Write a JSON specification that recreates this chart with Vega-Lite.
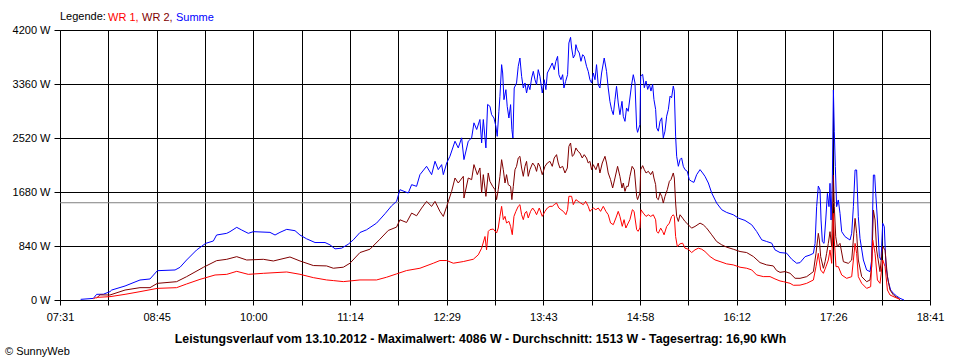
{
"$schema":"https://vega.github.io/schema/vega-lite/v6.json",
"width":870,"height":270,
"autosize":{"type":"none"},
"padding":{"left":60,"top":30,"right":30,"bottom":60},
"background":"white",
"config":{"view":{"stroke":null},"font":"Liberation Sans"},
"title":{"text":"© SunnyWeb","orient":"bottom","anchor":"start","frame":"group","dx":-55,"offset":2,"fontSize":11,"fontWeight":"normal","color":"black"},
"data":{"values":[
{"zeit":466.9,"serie":"Summe","watt":10},{"zeit":476.7,"serie":"Summe","watt":25},{"zeit":479.2,"serie":"Summe","watt":88},{"zeit":484.4,"serie":"Summe","watt":90},{"zeit":489.5,"serie":"Summe","watt":130},{"zeit":490.8,"serie":"Summe","watt":155},{"zeit":501.1,"serie":"Summe","watt":218},{"zeit":512.6,"serie":"Summe","watt":311},{"zeit":520.3,"serie":"Summe","watt":327},{"zeit":526.0,"serie":"Summe","watt":456},{"zeit":539.6,"serie":"Summe","watt":467},{"zeit":543.4,"serie":"Summe","watt":508},{"zeit":548.5,"serie":"Summe","watt":622},{"zeit":556.2,"serie":"Summe","watt":778},{"zeit":563.2,"serie":"Summe","watt":881},{"zeit":569.1,"serie":"Summe","watt":918},{"zeit":571.6,"serie":"Summe","watt":1011},{"zeit":579.4,"serie":"Summe","watt":1037},{"zeit":581.9,"serie":"Summe","watt":1063},{"zeit":587.1,"serie":"Summe","watt":1130},{"zeit":590.9,"serie":"Summe","watt":1089},{"zeit":596.0,"serie":"Summe","watt":1037},{"zeit":599.9,"serie":"Summe","watt":1063},{"zeit":612.7,"serie":"Summe","watt":1052},{"zeit":616.6,"serie":"Summe","watt":1011},{"zeit":620.4,"serie":"Summe","watt":1052},{"zeit":625.6,"serie":"Summe","watt":1099},{"zeit":632.0,"serie":"Summe","watt":1078},{"zeit":635.8,"serie":"Summe","watt":1011},{"zeit":640.9,"serie":"Summe","watt":952},{"zeit":647.4,"serie":"Summe","watt":894},{"zeit":655.1,"serie":"Summe","watt":894},{"zeit":658.9,"serie":"Summe","watt":858},{"zeit":662.8,"serie":"Summe","watt":796},{"zeit":667.9,"serie":"Summe","watt":806},{"zeit":673.0,"serie":"Summe","watt":868},{"zeit":676.9,"serie":"Summe","watt":936},{"zeit":682.0,"serie":"Summe","watt":1050},{"zeit":687.1,"serie":"Summe","watt":1092},{"zeit":694.8,"serie":"Summe","watt":1196},{"zeit":701.3,"serie":"Summe","watt":1342},{"zeit":706.4,"serie":"Summe","watt":1466},{"zeit":710.2,"serie":"Summe","watt":1534},{"zeit":712.8,"serie":"Summe","watt":1716},{"zeit":719.2,"serie":"Summe","watt":1664},{"zeit":721.8,"serie":"Summe","watt":1794},{"zeit":725.6,"serie":"Summe","watt":1768},{"zeit":728.2,"serie":"Summe","watt":1950},{"zeit":733.3,"serie":"Summe","watt":2080},{"zeit":737.2,"serie":"Summe","watt":1950},{"zeit":739.8,"serie":"Summe","watt":2158},{"zeit":742.3,"serie":"Summe","watt":2028},{"zeit":744.9,"serie":"Summe","watt":2106},{"zeit":746.2,"serie":"Summe","watt":1950},{"zeit":748.8,"serie":"Summe","watt":2132},{"zeit":751.3,"serie":"Summe","watt":2236},{"zeit":755.2,"serie":"Summe","watt":2470},{"zeit":757.7,"serie":"Summe","watt":2366},{"zeit":760.3,"serie":"Summe","watt":2522},{"zeit":762.1,"serie":"Summe","watt":2184},{"zeit":765.4,"serie":"Summe","watt":2470},{"zeit":768.0,"serie":"Summe","watt":2522},{"zeit":769.8,"serie":"Summe","watt":2756},{"zeit":771.9,"serie":"Summe","watt":2652},{"zeit":774.4,"serie":"Summe","watt":2808},{"zeit":775.7,"serie":"Summe","watt":2444},{"zeit":777.0,"serie":"Summe","watt":2808},{"zeit":779.0,"serie":"Summe","watt":2366},{"zeit":780.3,"serie":"Summe","watt":3042},{"zeit":782.1,"serie":"Summe","watt":3013},{"zeit":783.4,"serie":"Summe","watt":2883},{"zeit":785.2,"serie":"Summe","watt":2831},{"zeit":786.7,"serie":"Summe","watt":2701},{"zeit":787.7,"serie":"Summe","watt":2546},{"zeit":789.0,"serie":"Summe","watt":2935},{"zeit":789.8,"serie":"Summe","watt":3168},{"zeit":791.1,"serie":"Summe","watt":3661},{"zeit":791.9,"serie":"Summe","watt":3531},{"zeit":792.9,"serie":"Summe","watt":3116},{"zeit":794.4,"serie":"Summe","watt":3272},{"zeit":795.4,"serie":"Summe","watt":3013},{"zeit":796.7,"serie":"Summe","watt":2831},{"zeit":798.0,"serie":"Summe","watt":3039},{"zeit":799.0,"serie":"Summe","watt":2650},{"zeit":799.8,"serie":"Summe","watt":2520},{"zeit":800.8,"serie":"Summe","watt":3298},{"zeit":802.6,"serie":"Summe","watt":3376},{"zeit":803.9,"serie":"Summe","watt":3635},{"zeit":805.2,"serie":"Summe","watt":3764},{"zeit":806.5,"serie":"Summe","watt":3479},{"zeit":807.8,"serie":"Summe","watt":3298},{"zeit":809.1,"serie":"Summe","watt":3376},{"zeit":810.3,"serie":"Summe","watt":3220},{"zeit":811.6,"serie":"Summe","watt":3350},{"zeit":812.9,"serie":"Summe","watt":3272},{"zeit":814.2,"serie":"Summe","watt":3453},{"zeit":815.5,"serie":"Summe","watt":3557},{"zeit":816.8,"serie":"Summe","watt":3427},{"zeit":818.0,"serie":"Summe","watt":3350},{"zeit":819.3,"serie":"Summe","watt":3583},{"zeit":820.6,"serie":"Summe","watt":3479},{"zeit":822.4,"serie":"Summe","watt":3220},{"zeit":823.9,"serie":"Summe","watt":3427},{"zeit":825.2,"serie":"Summe","watt":3272},{"zeit":826.3,"serie":"Summe","watt":3531},{"zeit":828.3,"serie":"Summe","watt":3609},{"zeit":830.1,"serie":"Summe","watt":3687},{"zeit":831.6,"serie":"Summe","watt":3583},{"zeit":832.9,"serie":"Summe","watt":3713},{"zeit":834.2,"serie":"Summe","watt":3790},{"zeit":835.2,"serie":"Summe","watt":3505},{"zeit":836.8,"serie":"Summe","watt":3427},{"zeit":838.1,"serie":"Summe","watt":3505},{"zeit":839.1,"serie":"Summe","watt":3298},{"zeit":840.4,"serie":"Summe","watt":3401},{"zeit":841.9,"serie":"Summe","watt":3505},{"zeit":842.9,"serie":"Summe","watt":3998},{"zeit":844.2,"serie":"Summe","watt":4086},{"zeit":845.0,"serie":"Summe","watt":3920},{"zeit":846.3,"serie":"Summe","watt":3764},{"zeit":847.6,"serie":"Summe","watt":3816},{"zeit":848.3,"serie":"Summe","watt":3972},{"zeit":849.4,"serie":"Summe","watt":3894},{"zeit":850.9,"serie":"Summe","watt":3842},{"zeit":852.2,"serie":"Summe","watt":3713},{"zeit":853.5,"serie":"Summe","watt":3816},{"zeit":854.7,"serie":"Summe","watt":3790},{"zeit":856.5,"serie":"Summe","watt":3635},{"zeit":857.8,"serie":"Summe","watt":3557},{"zeit":859.1,"serie":"Summe","watt":3427},{"zeit":860.4,"serie":"Summe","watt":3376},{"zeit":861.7,"serie":"Summe","watt":3531},{"zeit":863.0,"serie":"Summe","watt":3427},{"zeit":864.2,"serie":"Summe","watt":3661},{"zeit":865.5,"serie":"Summe","watt":3350},{"zeit":866.8,"serie":"Summe","watt":3298},{"zeit":868.1,"serie":"Summe","watt":3531},{"zeit":870.1,"serie":"Summe","watt":3764},{"zeit":871.9,"serie":"Summe","watt":3557},{"zeit":873.2,"serie":"Summe","watt":3298},{"zeit":874.5,"serie":"Summe","watt":3090},{"zeit":875.8,"serie":"Summe","watt":2960},{"zeit":877.1,"serie":"Summe","watt":2883},{"zeit":878.4,"serie":"Summe","watt":3116},{"zeit":879.6,"serie":"Summe","watt":3324},{"zeit":880.9,"serie":"Summe","watt":3065},{"zeit":882.2,"serie":"Summe","watt":2883},{"zeit":883.8,"serie":"Summe","watt":3090},{"zeit":884.8,"serie":"Summe","watt":2857},{"zeit":886.1,"serie":"Summe","watt":2779},{"zeit":887.3,"serie":"Summe","watt":2987},{"zeit":888.6,"serie":"Summe","watt":2935},{"zeit":889.9,"serie":"Summe","watt":3142},{"zeit":891.2,"serie":"Summe","watt":3350},{"zeit":892.5,"serie":"Summe","watt":3505},{"zeit":893.8,"serie":"Summe","watt":3376},{"zeit":895.1,"serie":"Summe","watt":2676},{"zeit":895.8,"serie":"Summe","watt":2608},{"zeit":897.6,"serie":"Summe","watt":2727},{"zeit":898.2,"serie":"Summe","watt":3484},{"zeit":899.7,"serie":"Summe","watt":3510},{"zeit":901.0,"serie":"Summe","watt":3302},{"zeit":902.3,"serie":"Summe","watt":3406},{"zeit":903.6,"serie":"Summe","watt":3276},{"zeit":904.9,"serie":"Summe","watt":3354},{"zeit":906.1,"serie":"Summe","watt":3250},{"zeit":907.4,"serie":"Summe","watt":3354},{"zeit":908.4,"serie":"Summe","watt":3120},{"zeit":909.7,"serie":"Summe","watt":2964},{"zeit":910.5,"serie":"Summe","watt":2678},{"zeit":911.8,"serie":"Summe","watt":2626},{"zeit":913.1,"serie":"Summe","watt":2782},{"zeit":914.4,"serie":"Summe","watt":2834},{"zeit":915.6,"serie":"Summe","watt":2522},{"zeit":916.9,"serie":"Summe","watt":2626},{"zeit":918.2,"serie":"Summe","watt":2860},{"zeit":919.5,"serie":"Summe","watt":2964},{"zeit":920.8,"serie":"Summe","watt":3172},{"zeit":922.0,"serie":"Summe","watt":3146},{"zeit":923.3,"serie":"Summe","watt":3328},{"zeit":924.1,"serie":"Summe","watt":3250},{"zeit":925.1,"serie":"Summe","watt":2548},{"zeit":925.9,"serie":"Summe","watt":2236},{"zeit":927.2,"serie":"Summe","watt":2080},{"zeit":928.5,"serie":"Summe","watt":2184},{"zeit":929.7,"serie":"Summe","watt":2210},{"zeit":931.0,"serie":"Summe","watt":2080},{"zeit":932.3,"serie":"Summe","watt":2028},{"zeit":934.1,"serie":"Summe","watt":2002},{"zeit":935.6,"serie":"Summe","watt":1872},{"zeit":937.4,"serie":"Summe","watt":1846},{"zeit":939.2,"serie":"Summe","watt":1830},{"zeit":941.3,"serie":"Summe","watt":1950},{"zeit":943.9,"serie":"Summe","watt":2028},{"zeit":945.9,"serie":"Summe","watt":1976},{"zeit":947.7,"serie":"Summe","watt":1924},{"zeit":950.3,"serie":"Summe","watt":1820},{"zeit":952.9,"serie":"Summe","watt":1664},{"zeit":956.7,"serie":"Summe","watt":1508},{"zeit":960.6,"serie":"Summe","watt":1404},{"zeit":964.4,"serie":"Summe","watt":1362},{"zeit":969.5,"serie":"Summe","watt":1326},{"zeit":973.4,"serie":"Summe","watt":1274},{"zeit":978.5,"serie":"Summe","watt":1238},{"zeit":983.7,"serie":"Summe","watt":1170},{"zeit":987.5,"serie":"Summe","watt":1066},{"zeit":991.4,"serie":"Summe","watt":936},{"zeit":995.2,"serie":"Summe","watt":910},{"zeit":999.1,"serie":"Summe","watt":884},{"zeit":1001.6,"serie":"Summe","watt":780},{"zeit":1005.5,"serie":"Summe","watt":738},{"zeit":1010.6,"serie":"Summe","watt":728},{"zeit":1014.5,"serie":"Summe","watt":634},{"zeit":1018.3,"serie":"Summe","watt":572},{"zeit":1020.9,"serie":"Summe","watt":581},{"zeit":1024.8,"serie":"Summe","watt":674},{"zeit":1028.6,"serie":"Summe","watt":700},{"zeit":1031.2,"serie":"Summe","watt":726},{"zeit":1032.5,"serie":"Summe","watt":881},{"zeit":1033.7,"serie":"Summe","watt":1452},{"zeit":1035.0,"serie":"Summe","watt":1773},{"zeit":1036.3,"serie":"Summe","watt":1711},{"zeit":1037.1,"serie":"Summe","watt":1244},{"zeit":1038.1,"serie":"Summe","watt":907},{"zeit":1039.4,"serie":"Summe","watt":881},{"zeit":1040.7,"serie":"Summe","watt":1244},{"zeit":1042.0,"serie":"Summe","watt":1659},{"zeit":1043.2,"serie":"Summe","watt":1452},{"zeit":1044.0,"serie":"Summe","watt":1815},{"zeit":1044.8,"serie":"Summe","watt":1244},{"zeit":1045.8,"serie":"Summe","watt":1867},{"zeit":1046.6,"serie":"Summe","watt":3267},{"zeit":1047.3,"serie":"Summe","watt":2618},{"zeit":1048.1,"serie":"Summe","watt":2074},{"zeit":1049.1,"serie":"Summe","watt":1452},{"zeit":1050.4,"serie":"Summe","watt":1556},{"zeit":1051.7,"serie":"Summe","watt":1348},{"zeit":1053.0,"serie":"Summe","watt":1063},{"zeit":1055.6,"serie":"Summe","watt":985},{"zeit":1059.4,"serie":"Summe","watt":933},{"zeit":1060.7,"serie":"Summe","watt":1037},{"zeit":1062.0,"serie":"Summe","watt":1452},{"zeit":1063.3,"serie":"Summe","watt":2022},{"zeit":1064.5,"serie":"Summe","watt":2022},{"zeit":1065.8,"serie":"Summe","watt":1296},{"zeit":1067.1,"serie":"Summe","watt":959},{"zeit":1069.7,"serie":"Summe","watt":622},{"zeit":1072.2,"serie":"Summe","watt":467},{"zeit":1074.8,"serie":"Summe","watt":441},{"zeit":1076.1,"serie":"Summe","watt":622},{"zeit":1077.4,"serie":"Summe","watt":1944},{"zeit":1078.4,"serie":"Summe","watt":1944},{"zeit":1079.2,"serie":"Summe","watt":1659},{"zeit":1080.5,"serie":"Summe","watt":1244},{"zeit":1082.0,"serie":"Summe","watt":674},{"zeit":1083.3,"serie":"Summe","watt":622},{"zeit":1084.6,"serie":"Summe","watt":1193},{"zeit":1085.8,"serie":"Summe","watt":1141},{"zeit":1087.1,"serie":"Summe","watt":519},{"zeit":1088.9,"serie":"Summe","watt":285},{"zeit":1090.7,"serie":"Summe","watt":156},{"zeit":1092.8,"serie":"Summe","watt":104},{"zeit":1095.3,"serie":"Summe","watt":62},{"zeit":1097.9,"serie":"Summe","watt":26},{"zeit":1101.0,"serie":"Summe","watt":0},
{"zeit":479.2,"serie":"WR 2","watt":30},{"zeit":481.8,"serie":"WR 2","watt":80},{"zeit":489.5,"serie":"WR 2","watt":78},{"zeit":501.1,"serie":"WR 2","watt":155},{"zeit":512.6,"serie":"WR 2","watt":192},{"zeit":520.3,"serie":"WR 2","watt":192},{"zeit":526.0,"serie":"WR 2","watt":259},{"zeit":540.8,"serie":"WR 2","watt":285},{"zeit":548.5,"serie":"WR 2","watt":363},{"zeit":561.4,"serie":"WR 2","watt":508},{"zeit":571.6,"serie":"WR 2","watt":612},{"zeit":579.4,"serie":"WR 2","watt":633},{"zeit":587.1,"serie":"WR 2","watt":674},{"zeit":594.8,"serie":"WR 2","watt":622},{"zeit":607.6,"serie":"WR 2","watt":633},{"zeit":615.3,"serie":"WR 2","watt":607},{"zeit":628.1,"serie":"WR 2","watt":669},{"zeit":635.8,"serie":"WR 2","watt":607},{"zeit":646.1,"serie":"WR 2","watt":536},{"zeit":656.3,"serie":"WR 2","watt":530},{"zeit":661.5,"serie":"WR 2","watt":494},{"zeit":669.2,"serie":"WR 2","watt":510},{"zeit":674.3,"serie":"WR 2","watt":572},{"zeit":682.0,"serie":"WR 2","watt":738},{"zeit":689.7,"serie":"WR 2","watt":790},{"zeit":697.4,"serie":"WR 2","watt":946},{"zeit":703.8,"serie":"WR 2","watt":1082},{"zeit":710.2,"serie":"WR 2","watt":1134},{"zeit":712.8,"serie":"WR 2","watt":1248},{"zeit":717.9,"serie":"WR 2","watt":1206},{"zeit":721.8,"serie":"WR 2","watt":1352},{"zeit":725.6,"serie":"WR 2","watt":1310},{"zeit":729.5,"serie":"WR 2","watt":1430},{"zeit":733.3,"serie":"WR 2","watt":1534},{"zeit":737.2,"serie":"WR 2","watt":1456},{"zeit":739.8,"serie":"WR 2","watt":1534},{"zeit":743.6,"serie":"WR 2","watt":1378},{"zeit":746.2,"serie":"WR 2","watt":1300},{"zeit":748.8,"serie":"WR 2","watt":1456},{"zeit":752.6,"serie":"WR 2","watt":1690},{"zeit":755.2,"serie":"WR 2","watt":1898},{"zeit":757.7,"serie":"WR 2","watt":1820},{"zeit":761.6,"serie":"WR 2","watt":1924},{"zeit":762.1,"serie":"WR 2","watt":1586},{"zeit":765.4,"serie":"WR 2","watt":1898},{"zeit":768.0,"serie":"WR 2","watt":1872},{"zeit":769.8,"serie":"WR 2","watt":2106},{"zeit":772.4,"serie":"WR 2","watt":1950},{"zeit":774.4,"serie":"WR 2","watt":2054},{"zeit":775.7,"serie":"WR 2","watt":1664},{"zeit":777.0,"serie":"WR 2","watt":1950},{"zeit":779.0,"serie":"WR 2","watt":1612},{"zeit":780.8,"serie":"WR 2","watt":1976},{"zeit":782.1,"serie":"WR 2","watt":1846},{"zeit":784.2,"serie":"WR 2","watt":1768},{"zeit":786.0,"serie":"WR 2","watt":1716},{"zeit":787.2,"serie":"WR 2","watt":1561},{"zeit":788.5,"serie":"WR 2","watt":1716},{"zeit":789.8,"serie":"WR 2","watt":1924},{"zeit":791.1,"serie":"WR 2","watt":2183},{"zeit":792.4,"serie":"WR 2","watt":2027},{"zeit":793.7,"serie":"WR 2","watt":1820},{"zeit":794.9,"serie":"WR 2","watt":1950},{"zeit":796.2,"serie":"WR 2","watt":1794},{"zeit":798.0,"serie":"WR 2","watt":1768},{"zeit":799.0,"serie":"WR 2","watt":1561},{"zeit":800.1,"serie":"WR 2","watt":1768},{"zeit":801.4,"serie":"WR 2","watt":2027},{"zeit":802.6,"serie":"WR 2","watt":2079},{"zeit":803.9,"serie":"WR 2","watt":2209},{"zeit":805.2,"serie":"WR 2","watt":2235},{"zeit":806.5,"serie":"WR 2","watt":2053},{"zeit":807.8,"serie":"WR 2","watt":1924},{"zeit":809.1,"serie":"WR 2","watt":2079},{"zeit":810.3,"serie":"WR 2","watt":2157},{"zeit":811.6,"serie":"WR 2","watt":1924},{"zeit":812.9,"serie":"WR 2","watt":2027},{"zeit":815.0,"serie":"WR 2","watt":2131},{"zeit":816.8,"serie":"WR 2","watt":2079},{"zeit":818.0,"serie":"WR 2","watt":2001},{"zeit":819.3,"serie":"WR 2","watt":2131},{"zeit":820.6,"serie":"WR 2","watt":2079},{"zeit":822.4,"serie":"WR 2","watt":1950},{"zeit":824.5,"serie":"WR 2","watt":2079},{"zeit":826.3,"serie":"WR 2","watt":2131},{"zeit":828.3,"serie":"WR 2","watt":2157},{"zeit":830.1,"serie":"WR 2","watt":2079},{"zeit":831.6,"serie":"WR 2","watt":2209},{"zeit":833.4,"serie":"WR 2","watt":2261},{"zeit":834.7,"serie":"WR 2","watt":2131},{"zeit":836.0,"serie":"WR 2","watt":2053},{"zeit":838.1,"serie":"WR 2","watt":2079},{"zeit":839.9,"serie":"WR 2","watt":1976},{"zeit":841.7,"serie":"WR 2","watt":2053},{"zeit":842.9,"serie":"WR 2","watt":2390},{"zeit":844.2,"serie":"WR 2","watt":2442},{"zeit":845.5,"serie":"WR 2","watt":2235},{"zeit":846.8,"serie":"WR 2","watt":2261},{"zeit":848.3,"serie":"WR 2","watt":2365},{"zeit":849.9,"serie":"WR 2","watt":2313},{"zeit":851.4,"serie":"WR 2","watt":2287},{"zeit":853.2,"serie":"WR 2","watt":2209},{"zeit":854.7,"serie":"WR 2","watt":2261},{"zeit":856.5,"serie":"WR 2","watt":2209},{"zeit":857.8,"serie":"WR 2","watt":2131},{"zeit":859.1,"serie":"WR 2","watt":2157},{"zeit":860.4,"serie":"WR 2","watt":2027},{"zeit":861.7,"serie":"WR 2","watt":2105},{"zeit":863.7,"serie":"WR 2","watt":2027},{"zeit":865.5,"serie":"WR 2","watt":2131},{"zeit":866.8,"serie":"WR 2","watt":1976},{"zeit":868.6,"serie":"WR 2","watt":2131},{"zeit":870.7,"serie":"WR 2","watt":2235},{"zeit":871.9,"serie":"WR 2","watt":2131},{"zeit":873.2,"serie":"WR 2","watt":1976},{"zeit":875.0,"serie":"WR 2","watt":1872},{"zeit":876.6,"serie":"WR 2","watt":1742},{"zeit":878.4,"serie":"WR 2","watt":1898},{"zeit":880.4,"serie":"WR 2","watt":2079},{"zeit":882.2,"serie":"WR 2","watt":1924},{"zeit":883.8,"serie":"WR 2","watt":1742},{"zeit":884.8,"serie":"WR 2","watt":1820},{"zeit":886.1,"serie":"WR 2","watt":1690},{"zeit":887.3,"serie":"WR 2","watt":1768},{"zeit":888.6,"serie":"WR 2","watt":1768},{"zeit":889.9,"serie":"WR 2","watt":1924},{"zeit":891.6,"serie":"WR 2","watt":2079},{"zeit":893.3,"serie":"WR 2","watt":2027},{"zeit":895.1,"serie":"WR 2","watt":1613},{"zeit":895.8,"serie":"WR 2","watt":1561},{"zeit":897.6,"serie":"WR 2","watt":1664},{"zeit":898.2,"serie":"WR 2","watt":2028},{"zeit":899.7,"serie":"WR 2","watt":2090},{"zeit":901.0,"serie":"WR 2","watt":2028},{"zeit":902.3,"serie":"WR 2","watt":1976},{"zeit":904.1,"serie":"WR 2","watt":2002},{"zeit":905.9,"serie":"WR 2","watt":1950},{"zeit":907.4,"serie":"WR 2","watt":2002},{"zeit":908.4,"serie":"WR 2","watt":1898},{"zeit":909.7,"serie":"WR 2","watt":1794},{"zeit":910.5,"serie":"WR 2","watt":1586},{"zeit":911.8,"serie":"WR 2","watt":1560},{"zeit":913.1,"serie":"WR 2","watt":1664},{"zeit":914.4,"serie":"WR 2","watt":1612},{"zeit":915.6,"serie":"WR 2","watt":1508},{"zeit":916.9,"serie":"WR 2","watt":1612},{"zeit":918.7,"serie":"WR 2","watt":1716},{"zeit":920.3,"serie":"WR 2","watt":1846},{"zeit":921.5,"serie":"WR 2","watt":1872},{"zeit":923.3,"serie":"WR 2","watt":1976},{"zeit":924.1,"serie":"WR 2","watt":1898},{"zeit":925.1,"serie":"WR 2","watt":1508},{"zeit":925.9,"serie":"WR 2","watt":1300},{"zeit":927.2,"serie":"WR 2","watt":1222},{"zeit":928.5,"serie":"WR 2","watt":1326},{"zeit":930.5,"serie":"WR 2","watt":1274},{"zeit":932.3,"serie":"WR 2","watt":1222},{"zeit":934.9,"serie":"WR 2","watt":1170},{"zeit":937.4,"serie":"WR 2","watt":1118},{"zeit":940.0,"serie":"WR 2","watt":1144},{"zeit":943.9,"serie":"WR 2","watt":1196},{"zeit":946.4,"serie":"WR 2","watt":1170},{"zeit":949.0,"serie":"WR 2","watt":1118},{"zeit":952.9,"serie":"WR 2","watt":1014},{"zeit":956.7,"serie":"WR 2","watt":910},{"zeit":960.6,"serie":"WR 2","watt":858},{"zeit":964.4,"serie":"WR 2","watt":822},{"zeit":969.5,"serie":"WR 2","watt":790},{"zeit":974.7,"serie":"WR 2","watt":754},{"zeit":979.8,"serie":"WR 2","watt":738},{"zeit":985.0,"serie":"WR 2","watt":676},{"zeit":990.1,"serie":"WR 2","watt":582},{"zeit":995.2,"serie":"WR 2","watt":546},{"zeit":1000.3,"serie":"WR 2","watt":530},{"zeit":1002.9,"serie":"WR 2","watt":458},{"zeit":1005.5,"serie":"WR 2","watt":430},{"zeit":1009.4,"serie":"WR 2","watt":442},{"zeit":1013.2,"serie":"WR 2","watt":416},{"zeit":1017.1,"serie":"WR 2","watt":338},{"zeit":1020.9,"serie":"WR 2","watt":337},{"zeit":1026.0,"serie":"WR 2","watt":363},{"zeit":1031.2,"serie":"WR 2","watt":441},{"zeit":1033.2,"serie":"WR 2","watt":726},{"zeit":1035.0,"serie":"WR 2","watt":1037},{"zeit":1035.8,"serie":"WR 2","watt":933},{"zeit":1036.8,"serie":"WR 2","watt":674},{"zeit":1038.9,"serie":"WR 2","watt":493},{"zeit":1040.2,"serie":"WR 2","watt":596},{"zeit":1041.4,"serie":"WR 2","watt":726},{"zeit":1042.7,"serie":"WR 2","watt":881},{"zeit":1044.0,"serie":"WR 2","watt":1063},{"zeit":1045.3,"serie":"WR 2","watt":830},{"zeit":1046.6,"serie":"WR 2","watt":1944},{"zeit":1047.3,"serie":"WR 2","watt":1452},{"zeit":1048.4,"serie":"WR 2","watt":985},{"zeit":1049.6,"serie":"WR 2","watt":830},{"zeit":1051.7,"serie":"WR 2","watt":881},{"zeit":1054.3,"serie":"WR 2","watt":596},{"zeit":1058.1,"serie":"WR 2","watt":570},{"zeit":1060.7,"serie":"WR 2","watt":622},{"zeit":1063.3,"serie":"WR 2","watt":1270},{"zeit":1064.5,"serie":"WR 2","watt":1037},{"zeit":1065.8,"serie":"WR 2","watt":622},{"zeit":1068.4,"serie":"WR 2","watt":363},{"zeit":1072.2,"serie":"WR 2","watt":285},{"zeit":1074.8,"serie":"WR 2","watt":311},{"zeit":1076.1,"serie":"WR 2","watt":519},{"zeit":1077.4,"serie":"WR 2","watt":1400},{"zeit":1078.7,"serie":"WR 2","watt":1244},{"zeit":1079.9,"serie":"WR 2","watt":778},{"zeit":1082.5,"serie":"WR 2","watt":441},{"zeit":1084.6,"serie":"WR 2","watt":830},{"zeit":1086.4,"serie":"WR 2","watt":778},{"zeit":1088.2,"serie":"WR 2","watt":363},{"zeit":1090.2,"serie":"WR 2","watt":156},{"zeit":1092.8,"serie":"WR 2","watt":78},{"zeit":1096.6,"serie":"WR 2","watt":26},{"zeit":1097.9,"serie":"WR 2","watt":0},
{"zeit":476.7,"serie":"WR 1","watt":20},{"zeit":479.2,"serie":"WR 1","watt":41},{"zeit":489.5,"serie":"WR 1","watt":52},{"zeit":501.1,"serie":"WR 1","watt":88},{"zeit":512.6,"serie":"WR 1","watt":130},{"zeit":526.0,"serie":"WR 1","watt":181},{"zeit":540.8,"serie":"WR 1","watt":192},{"zeit":548.5,"serie":"WR 1","watt":249},{"zeit":558.8,"serie":"WR 1","watt":321},{"zeit":570.4,"serie":"WR 1","watt":389},{"zeit":579.4,"serie":"WR 1","watt":399},{"zeit":587.1,"serie":"WR 1","watt":446},{"zeit":596.0,"serie":"WR 1","watt":399},{"zeit":607.6,"serie":"WR 1","watt":415},{"zeit":625.6,"serie":"WR 1","watt":436},{"zeit":635.8,"serie":"WR 1","watt":400},{"zeit":646.1,"serie":"WR 1","watt":348},{"zeit":656.3,"serie":"WR 1","watt":312},{"zeit":661.5,"serie":"WR 1","watt":302},{"zeit":669.2,"serie":"WR 1","watt":286},{"zeit":682.0,"serie":"WR 1","watt":312},{"zeit":694.8,"serie":"WR 1","watt":312},{"zeit":702.5,"serie":"WR 1","watt":354},{"zeit":710.2,"serie":"WR 1","watt":406},{"zeit":717.9,"serie":"WR 1","watt":458},{"zeit":728.2,"serie":"WR 1","watt":494},{"zeit":738.5,"serie":"WR 1","watt":572},{"zeit":743.6,"serie":"WR 1","watt":614},{"zeit":748.8,"serie":"WR 1","watt":614},{"zeit":753.9,"serie":"WR 1","watt":572},{"zeit":761.6,"serie":"WR 1","watt":598},{"zeit":769.3,"serie":"WR 1","watt":634},{"zeit":773.1,"serie":"WR 1","watt":702},{"zeit":775.7,"serie":"WR 1","watt":806},{"zeit":778.3,"serie":"WR 1","watt":988},{"zeit":779.5,"serie":"WR 1","watt":780},{"zeit":780.8,"serie":"WR 1","watt":1066},{"zeit":782.1,"serie":"WR 1","watt":1094},{"zeit":784.7,"serie":"WR 1","watt":1104},{"zeit":787.2,"serie":"WR 1","watt":1042},{"zeit":788.5,"serie":"WR 1","watt":1120},{"zeit":789.8,"serie":"WR 1","watt":1301},{"zeit":791.1,"serie":"WR 1","watt":1457},{"zeit":792.4,"serie":"WR 1","watt":1250},{"zeit":793.7,"serie":"WR 1","watt":1301},{"zeit":794.9,"serie":"WR 1","watt":1198},{"zeit":796.7,"serie":"WR 1","watt":1224},{"zeit":798.0,"serie":"WR 1","watt":1146},{"zeit":799.3,"serie":"WR 1","watt":1016},{"zeit":800.6,"serie":"WR 1","watt":1301},{"zeit":802.1,"serie":"WR 1","watt":1379},{"zeit":803.9,"serie":"WR 1","watt":1457},{"zeit":805.2,"serie":"WR 1","watt":1483},{"zeit":806.5,"serie":"WR 1","watt":1327},{"zeit":807.8,"serie":"WR 1","watt":1250},{"zeit":809.1,"serie":"WR 1","watt":1353},{"zeit":810.3,"serie":"WR 1","watt":1379},{"zeit":811.6,"serie":"WR 1","watt":1276},{"zeit":813.4,"serie":"WR 1","watt":1379},{"zeit":815.0,"serie":"WR 1","watt":1431},{"zeit":816.8,"serie":"WR 1","watt":1379},{"zeit":818.0,"serie":"WR 1","watt":1327},{"zeit":820.1,"serie":"WR 1","watt":1431},{"zeit":822.4,"serie":"WR 1","watt":1301},{"zeit":824.5,"serie":"WR 1","watt":1379},{"zeit":826.3,"serie":"WR 1","watt":1431},{"zeit":828.3,"serie":"WR 1","watt":1457},{"zeit":830.1,"serie":"WR 1","watt":1457},{"zeit":831.6,"serie":"WR 1","watt":1483},{"zeit":833.4,"serie":"WR 1","watt":1509},{"zeit":835.2,"serie":"WR 1","watt":1431},{"zeit":836.8,"serie":"WR 1","watt":1405},{"zeit":838.6,"serie":"WR 1","watt":1379},{"zeit":840.6,"serie":"WR 1","watt":1327},{"zeit":841.9,"serie":"WR 1","watt":1405},{"zeit":842.9,"serie":"WR 1","watt":1613},{"zeit":845.0,"serie":"WR 1","watt":1613},{"zeit":846.3,"serie":"WR 1","watt":1483},{"zeit":848.3,"serie":"WR 1","watt":1561},{"zeit":850.1,"serie":"WR 1","watt":1535},{"zeit":851.9,"serie":"WR 1","watt":1509},{"zeit":854.0,"serie":"WR 1","watt":1483},{"zeit":855.8,"serie":"WR 1","watt":1535},{"zeit":857.8,"serie":"WR 1","watt":1457},{"zeit":859.1,"serie":"WR 1","watt":1379},{"zeit":861.7,"serie":"WR 1","watt":1431},{"zeit":863.7,"serie":"WR 1","watt":1405},{"zeit":865.5,"serie":"WR 1","watt":1431},{"zeit":867.3,"serie":"WR 1","watt":1379},{"zeit":869.4,"serie":"WR 1","watt":1457},{"zeit":871.4,"serie":"WR 1","watt":1379},{"zeit":873.2,"serie":"WR 1","watt":1327},{"zeit":875.0,"serie":"WR 1","watt":1198},{"zeit":877.1,"serie":"WR 1","watt":1172},{"zeit":879.1,"serie":"WR 1","watt":1276},{"zeit":880.9,"serie":"WR 1","watt":1379},{"zeit":882.2,"serie":"WR 1","watt":1301},{"zeit":884.0,"serie":"WR 1","watt":1146},{"zeit":885.4,"serie":"WR 1","watt":1250},{"zeit":886.8,"serie":"WR 1","watt":1120},{"zeit":888.6,"serie":"WR 1","watt":1198},{"zeit":889.9,"serie":"WR 1","watt":1250},{"zeit":891.8,"serie":"WR 1","watt":1405},{"zeit":893.1,"serie":"WR 1","watt":1379},{"zeit":895.1,"serie":"WR 1","watt":1094},{"zeit":896.2,"serie":"WR 1","watt":1068},{"zeit":897.6,"serie":"WR 1","watt":1120},{"zeit":898.4,"serie":"WR 1","watt":1404},{"zeit":900.2,"serie":"WR 1","watt":1352},{"zeit":902.3,"serie":"WR 1","watt":1300},{"zeit":904.1,"serie":"WR 1","watt":1326},{"zeit":905.9,"serie":"WR 1","watt":1300},{"zeit":907.9,"serie":"WR 1","watt":1326},{"zeit":909.7,"serie":"WR 1","watt":1248},{"zeit":910.5,"serie":"WR 1","watt":1066},{"zeit":911.8,"serie":"WR 1","watt":1040},{"zeit":913.6,"serie":"WR 1","watt":1118},{"zeit":915.1,"serie":"WR 1","watt":1066},{"zeit":916.2,"serie":"WR 1","watt":1014},{"zeit":918.2,"serie":"WR 1","watt":1144},{"zeit":920.3,"serie":"WR 1","watt":1196},{"zeit":922.0,"serie":"WR 1","watt":1300},{"zeit":923.3,"serie":"WR 1","watt":1326},{"zeit":924.1,"serie":"WR 1","watt":1300},{"zeit":925.1,"serie":"WR 1","watt":988},{"zeit":926.4,"serie":"WR 1","watt":832},{"zeit":928.5,"serie":"WR 1","watt":874},{"zeit":930.5,"serie":"WR 1","watt":884},{"zeit":932.3,"serie":"WR 1","watt":806},{"zeit":934.9,"serie":"WR 1","watt":790},{"zeit":937.4,"serie":"WR 1","watt":738},{"zeit":940.0,"serie":"WR 1","watt":780},{"zeit":942.6,"serie":"WR 1","watt":806},{"zeit":945.2,"serie":"WR 1","watt":790},{"zeit":947.7,"serie":"WR 1","watt":754},{"zeit":951.6,"serie":"WR 1","watt":676},{"zeit":955.4,"serie":"WR 1","watt":624},{"zeit":959.3,"serie":"WR 1","watt":598},{"zeit":964.4,"serie":"WR 1","watt":562},{"zeit":969.5,"serie":"WR 1","watt":546},{"zeit":974.7,"serie":"WR 1","watt":510},{"zeit":979.8,"serie":"WR 1","watt":494},{"zeit":983.7,"serie":"WR 1","watt":468},{"zeit":987.5,"serie":"WR 1","watt":390},{"zeit":992.6,"serie":"WR 1","watt":364},{"zeit":997.8,"serie":"WR 1","watt":364},{"zeit":1001.6,"serie":"WR 1","watt":328},{"zeit":1005.5,"serie":"WR 1","watt":296},{"zeit":1008.1,"serie":"WR 1","watt":286},{"zeit":1013.2,"serie":"WR 1","watt":260},{"zeit":1015.8,"serie":"WR 1","watt":229},{"zeit":1020.9,"serie":"WR 1","watt":231},{"zeit":1026.0,"serie":"WR 1","watt":259},{"zeit":1031.2,"serie":"WR 1","watt":311},{"zeit":1033.2,"serie":"WR 1","watt":519},{"zeit":1035.0,"serie":"WR 1","watt":726},{"zeit":1036.8,"serie":"WR 1","watt":467},{"zeit":1038.9,"serie":"WR 1","watt":415},{"zeit":1040.9,"serie":"WR 1","watt":519},{"zeit":1042.7,"serie":"WR 1","watt":622},{"zeit":1044.0,"serie":"WR 1","watt":778},{"zeit":1045.3,"serie":"WR 1","watt":570},{"zeit":1046.6,"serie":"WR 1","watt":1348},{"zeit":1047.3,"serie":"WR 1","watt":933},{"zeit":1048.6,"serie":"WR 1","watt":519},{"zeit":1050.4,"serie":"WR 1","watt":519},{"zeit":1053.0,"serie":"WR 1","watt":389},{"zeit":1056.8,"serie":"WR 1","watt":337},{"zeit":1060.7,"serie":"WR 1","watt":363},{"zeit":1063.3,"serie":"WR 1","watt":881},{"zeit":1064.5,"serie":"WR 1","watt":726},{"zeit":1065.8,"serie":"WR 1","watt":363},{"zeit":1068.4,"serie":"WR 1","watt":259},{"zeit":1072.2,"serie":"WR 1","watt":181},{"zeit":1075.3,"serie":"WR 1","watt":207},{"zeit":1076.9,"serie":"WR 1","watt":933},{"zeit":1078.7,"serie":"WR 1","watt":726},{"zeit":1080.5,"serie":"WR 1","watt":311},{"zeit":1082.5,"serie":"WR 1","watt":259},{"zeit":1084.6,"serie":"WR 1","watt":622},{"zeit":1086.4,"serie":"WR 1","watt":519},{"zeit":1088.2,"serie":"WR 1","watt":156},{"zeit":1090.2,"serie":"WR 1","watt":78},{"zeit":1094.1,"serie":"WR 1","watt":41},{"zeit":1097.9,"serie":"WR 1","watt":10}
]},
"layer":[
{"data":{"values":[{"durchschnitt":1513}]},
 "mark":{"type":"rule","color":"#808080","strokeWidth":1},
 "encoding":{"y":{"field":"durchschnitt","type":"quantitative","scale":{"domain":[0,4200],"nice":false},
   "axis":{"values":[0,840,1680,2520,3360,4200],"labelExpr":"datum.value + ' W'","grid":true,"gridColor":"black","gridOpacity":1,"gridWidth":1,
    "domainColor":"black","tickColor":"black","tickSize":6,"labelPadding":4,"labelFontSize":11,"labelColor":"black","labelFont":"Liberation Sans","labelFlush":false,"title":null}}}},
{"mark":{"type":"line","strokeWidth":1,"interpolate":"linear"},
 "encoding":{
  "x":{"field":"zeit","type":"quantitative","scale":{"domain":[451,1121],"nice":false,"zero":false},
   "axis":{"values":[451,488.22,525.44,562.67,599.89,637.11,674.33,711.56,748.78,786,823.22,860.44,897.67,934.89,972.11,1009.33,1046.56,1083.78,1121],
    "labelExpr":"['07:31','','08:45','','10:00','','11:14','','12:29','','13:43','','14:58','','16:12','','17:26','','18:41'][round((datum.value-451)/37.2222)]",
    "grid":true,"gridColor":"black","gridOpacity":1,"gridWidth":1,"domainColor":"black","domainWidth":1,"tickColor":"black","tickSize":5,"tickWidth":1,
    "labelColor":"black","labelFontSize":11,"labelPadding":6,"labelFlush":false,"labelOverlap":false,"labelFont":"Liberation Sans",
    "title":"Leistungsverlauf vom 13.10.2012 - Maximalwert: 4086 W - Durchschnitt: 1513 W - Tagesertrag: 16,90 kWh",
    "titleFont":"Liberation Sans","titleFontWeight":"bold","titleFontSize":12.3,"titleColor":"black","titlePadding":10,"titleX":420,"titleAlign":"center"}},
  "y":{"field":"watt","type":"quantitative","scale":{"domain":[0,4200],"nice":false},
   "axis":{"values":[0,840,1680,2520,3360,4200],"labelExpr":"datum.value + ' W'","grid":true,"gridColor":"black","gridOpacity":1,"gridWidth":1,
    "domainColor":"black","tickColor":"black","tickSize":6,"labelPadding":4,"labelFontSize":11,"labelColor":"black","labelFont":"Liberation Sans","labelFlush":false,"title":null}},
  "color":{"field":"serie","type":"nominal","scale":{"domain":["WR 1","WR 2","Summe"],"range":["#ff0000","#800000","#0000ff"]},
   "legend":{"orient":"none","legendX":0,"legendY":-18,"direction":"horizontal","title":"Legende:","titleOrient":"left","titleFontSize":11,"titleFontWeight":"normal","titleColor":"black","titleFont":"Liberation Sans","titlePadding":3,
    "labelFontSize":11,"labelFont":"Liberation Sans","labelOffset":-12,"columnPadding":3,"symbolSize":0,"symbolStrokeWidth":0,"symbolOpacity":0,"symbolType":"circle",
    "labelExpr":"datum.label + (datum.value == 'Summe' ? '' : ',')",
    "encode":{"labels":{"update":{"fill":{"scale":"color","field":"value"}}}}}}
 }}
]
}
